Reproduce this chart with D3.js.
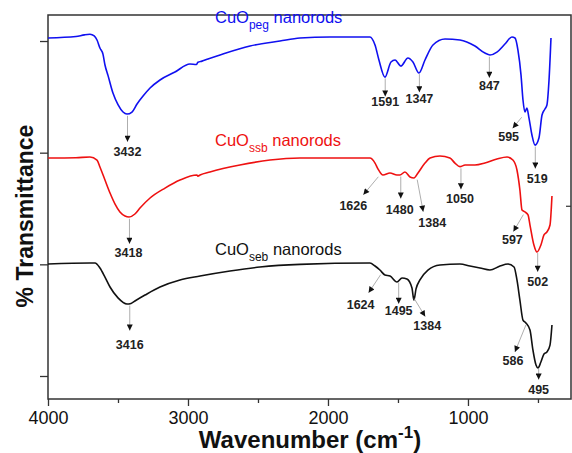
<!DOCTYPE html>
<head>
  <meta charset="utf-8">
  <style>
    body { margin: 0; background: #fff; }
    svg text { font-family: Arial, "Liberation Sans", sans-serif; }
    .peak { font-size: 12.5px; font-weight: bold; fill: #222; text-anchor: middle; }
  </style>
</head>
<body>
  <svg width="572" height="453" id="chart"></svg>
  <script src="https://d3js.org/d3.v7.min.js"></script>
  <script>
    // FTIR spectra: [wavenumber, transmittance (offset units)]
    const pegData = [
      [4000,3.027],[3800,3.04],[3740,3.055],[3700,3.06],[3670,3.045],[3650,3.009],[3629,2.937],
      [3607,2.88],[3593,2.785],[3571,2.69],[3536,2.534],[3500,2.43],[3464,2.364],[3436,2.346],
      [3400,2.364],[3364,2.436],[3321,2.507],[3271,2.579],[3200,2.651],[3093,2.722],[2986,2.794],
      [2940,2.79],[2929,2.81],[2900,2.82],[2857,2.839],[2771,2.875],[2557,2.955],[2343,3.0],
      [2200,3.027],[1986,3.036],[1700,3.036],[1664,2.964],[1636,2.83],[1593,2.677],[1550,2.812],
      [1521,2.83],[1479,2.776],[1429,2.848],[1393,2.812],[1350,2.713],[1307,2.83],[1250,2.964],
      [1164,3.018],[1057,3.009],[950,2.955],[879,2.892],[843,2.875],[793,2.901],[736,2.973],
      [686,3.036],[664,3.027],[643,2.919],[621,2.695],[607,2.472],[593,2.364],[579,2.40],
      [564,2.31],[543,2.158],[521,2.068],[493,2.131],[471,2.337],[450,2.391],[436,2.427],
      [421,2.651],[407,3.027]
    ];
    const ssbData = [
      [4000,1.952],[3800,1.955],[3700,1.961],[3650,1.934],[3629,1.872],[3593,1.755],[3557,1.639],
      [3521,1.540],[3486,1.469],[3450,1.433],[3421,1.424],[3379,1.451],[3343,1.504],[3271,1.594],
      [3164,1.683],[3057,1.755],[2936,1.80],[2929,1.79],[2914,1.80],[2843,1.827],[2629,1.889],
      [2414,1.934],[2200,1.952],[1700,1.952],[1664,1.907],[1643,1.855],[1607,1.80],[1557,1.818],
      [1507,1.80],[1486,1.80],[1450,1.827],[1414,1.782],[1386,1.773],[1357,1.818],[1307,1.907],
      [1271,1.952],[1200,1.97],[1129,1.952],[1093,1.907],[1057,1.875],[1021,1.889],[950,1.889],
      [879,1.907],[793,1.943],[721,1.961],[679,1.934],[650,1.845],[629,1.666],[614,1.486],
      [593,1.469],[571,1.442],[557,1.352],[529,1.173],[507,1.110],[479,1.173],[457,1.263],
      [436,1.290],[414,1.352],[400,1.612]
    ];
    const sebData = [
      [4000,1.003],[3700,1.012],[3664,1.012],[3629,0.967],[3593,0.886],[3557,0.797],[3500,0.70],
      [3436,0.645],[3407,0.650],[3379,0.672],[3307,0.725],[3200,0.797],[3057,0.860],[2914,0.895],
      [2700,0.940],[2486,0.976],[2200,1.0],[1700,1.012],[1664,0.985],[1629,0.949],[1593,0.904],
      [1557,0.895],[1507,0.842],[1471,0.878],[1436,0.869],[1400,0.788],[1386,0.68],[1371,0.78],
      [1343,0.860],[1286,0.949],[1200,0.994],[1057,1.003],[986,0.985],[914,0.967],[843,0.949],
      [771,0.985],[714,1.003],[671,0.976],[650,0.860],[629,0.680],[607,0.501],[586,0.475],
      [557,0.412],[536,0.233],[514,0.098],[500,0.072],[479,0.125],[457,0.197],[436,0.215],
      [414,0.277],[400,0.457]
    ];

    const seriesNames = ["peg", "ssb", "seb"];
    const seriesColors = ["#1010f0", "#ee1111", "#111111"];

    // marked peaks per series
    const pegPeaks = [3432, 1591, 1347, 847, 595, 519];
    const ssbPeaks = [3418, 1626, 1480, 1384, 1050, 597, 502];
    const sebPeaks = [3416, 1624, 1495, 1384, 586, 495];

    const xTicks = [4000, 3000, 2000, 1000];
    const xMinor = [3500, 2500, 1500, 500];
    const yTicks = [0, 1, 2, 3];

    // arrow layout (px, relative to the curve point): start, tip, label baseline
    const pegArrows = [[0,2,0,28,0,42],[0,2,0,20,0,30],[0,2,0,20,0,31],[0,2,0,23,0,35],[-3,7,-12,18,-16,31],[0,2,0,24,2,38]];
    const ssbArrows = [[0,2,0,27,-1,40],[-2,5,-17,23,-27,38],[0,2,0,24,-1,39],[3,2,9,34,18,49],[0,2,0,23,-1,37],[-1,3,-11,20,-12,32],[0,2,0,21,0,35]];
    const sebArrows = [[0,2,0,27,0,45],[0,4,-12,22,-20,38],[0,2,0,23,0,34],[0,0,11,18,13,31],[0,2,-11,29,-13,42],[0,2,0,13,0,27]];

    const svg = d3.select("#chart");
    const x = d3.scaleLinear().domain([4000, 264]).range([48, 571]);
    const y = d3.scaleLinear().domain([-0.206, 3.233]).range([399, 15]);

    const defs = svg.append("defs");
    defs.append("marker")
      .attr("id", "head")
      .attr("viewBox", "0 0 10 10")
      .attr("refX", 10).attr("refY", 5)
      .attr("markerWidth", 8).attr("markerHeight", 6)
      .attr("markerUnits", "userSpaceOnUse")
      .attr("orient", "auto")
      .append("path").attr("d", "M0,0L10,5L0,10Z").attr("fill", "#111");

    // axes
    const xAxis = svg.append("g")
      .attr("transform", "translate(0,399)")
      .call(d3.axisBottom(x).tickValues(xTicks).tickSize(7).tickPadding(5).tickFormat(d3.format("d")));
    xAxis.selectAll("text").attr("font-size", 18).attr("fill", "#111");
    svg.append("g")
      .attr("transform", "translate(0,399)")
      .call(d3.axisBottom(x).tickValues(xMinor).tickSize(4).tickFormat(""));
    svg.append("g")
      .attr("transform", "translate(48,0)")
      .call(d3.axisLeft(y).tickValues(yTicks).tickSize(8).tickFormat(""));
    svg.selectAll(".domain").remove();
    svg.selectAll(".tick line").attr("stroke", "#333").attr("stroke-width", 1.3);

    svg.append("rect")
      .attr("x", 48).attr("y", 15).attr("width", 523).attr("height", 384)
      .attr("fill", "none").attr("stroke", "#333").attr("stroke-width", 1.5);
    svg.append("line")
      .attr("x1", 566).attr("x2", 571).attr("y1", y(1.52)).attr("y2", y(1.52))
      .attr("stroke", "#333").attr("stroke-width", 1.2);

    // spectra
    const line = d3.line().x(d => x(d[0])).y(d => y(d[1])).curve(d3.curveMonotoneX);
    const allData = [pegData, ssbData, sebData];
    allData.forEach((data, i) => {
      svg.append("path")
        .datum(data)
        .attr("fill", "none")
        .attr("stroke", seriesColors[i])
        .attr("stroke-width", 1.6)
        .attr("d", line);
    });

    // series labels
    const labelBase = [3.16, 2.06, 1.08];
    seriesNames.forEach((name, i) => {
      const t = svg.append("text")
        .attr("x", 215).attr("y", y(labelBase[i]))
        .attr("font-size", 16.5).attr("fill", seriesColors[i]);
      t.append("tspan").text("CuO");
      t.append("tspan").attr("font-size", 12).attr("dy", 6).text(name);
      t.append("tspan").attr("dy", -6).text(" nanorods");
    });

    // peak annotations
    function valueAt(data, w) {
      for (let k = 0; k < data.length - 1; k++) {
        const a = data[k], b = data[k + 1];
        if (w <= a[0] && w >= b[0]) {
          const t = (a[0] - w) / (a[0] - b[0]);
          return a[1] + t * (b[1] - a[1]);
        }
      }
      return data[data.length - 1][1];
    }
    const allPeaks = [pegPeaks, ssbPeaks, sebPeaks];
    const allArrows = [pegArrows, ssbArrows, sebArrows];
    allPeaks.forEach((peaks, i) => {
      const g = svg.append("g");
      peaks.forEach((w, k) => {
        const a = allArrows[i][k];
        const px = x(w), py = y(valueAt(allData[i], w));
        g.append("line")
          .attr("x1", px + a[0]).attr("y1", py + a[1])
          .attr("x2", px + a[2]).attr("y2", py + a[3])
          .attr("stroke", "#999").attr("stroke-width", 0.8)
          .attr("marker-end", "url(#head)");
        g.append("text").attr("class", "peak")
          .attr("x", px + a[4]).attr("y", py + a[5])
          .text(w);
      });
    });

    // axis titles
    const xt = svg.append("text")
      .attr("x", 310).attr("y", 448)
      .attr("text-anchor", "middle")
      .attr("font-size", 24).attr("font-weight", "bold").attr("fill", "#111");
    xt.append("tspan").text("Wavenumber (cm");
    xt.append("tspan").attr("font-size", 17).attr("dy", -10).text("-1");
    xt.append("tspan").attr("dy", 10).text(")");

    svg.append("text")
      .attr("transform", "translate(33,216) rotate(-90)")
      .attr("text-anchor", "middle")
      .attr("font-size", 23).attr("font-weight", "bold").attr("fill", "#111")
      .text("% Transmittance");
  </script>
</body>
